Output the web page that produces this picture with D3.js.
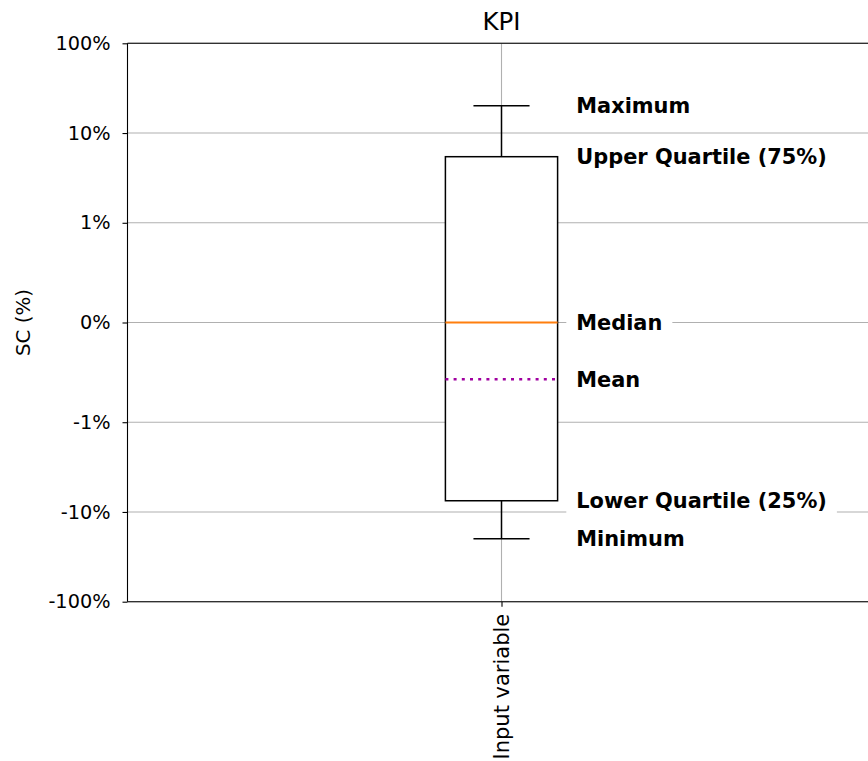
<!DOCTYPE html>
<html>
<head>
<meta charset="utf-8">
<script src="https://cdn.jsdelivr.net/npm/d3@7"></script>
<style>
  html, body { margin: 0; padding: 0; background: #fff; }
  svg { display: block; font-family: "DejaVu Sans", sans-serif; }
</style>
</head>
<body>
<svg id="chart" width="868" height="761"></svg>
<script>
// Box-plot summary of the KPI, values in percent
const categories = ["Input variable"];
const whiskerHigh = [20.2];
const upperQuartile = [5.45];
const median = [0];
const mean = [-0.57];
const lowerQuartile = [-7.5];
const whiskerLow = [-19.9];

const statLabels = ["Maximum", "Upper Quartile (75%)", "Median", "Mean", "Lower Quartile (25%)", "Minimum"];
const yTickValues = [-100, -10, -1, 0, 1, 10, 100];
const yTickLabels = ["-100%", "-10%", "-1%", "0%", "1%", "10%", "100%"];

// Symmetric log transform (linear within ±linthresh, log10 beyond)
const linthresh = 1, linscale = 1, base = 10;
const linscaleAdj = linscale / (1 - 1 / base);
function symlog(v) {
  const a = Math.abs(v);
  if (a <= linthresh) return v * linscaleAdj;
  return Math.sign(v) * linthresh * (linscaleAdj + Math.log(a / linthresh) / Math.log(base));
}

const plot = { left: 127.5, right: 875.5, top: 43.3, bottom: 601.7 };
const svg = d3.select("#chart");

const x = d3.scalePoint().domain(categories).range([plot.left, plot.right]).padding(0.5);
const yLin = d3.scaleLinear().domain([symlog(-100), symlog(100)]).range([plot.bottom, plot.top]);
const y = v => yLin(symlog(v));
const unit = (plot.right - plot.left); // one x data unit spans the whole axis (xlim 0.5..1.5)

// Grid
const grid = svg.append("g").attr("stroke", "#b0b0b0").attr("stroke-width", 1.1);
grid.selectAll("line.h").data(yTickValues).join("line")
  .attr("x1", plot.left).attr("x2", plot.right)
  .attr("y1", d => y(d)).attr("y2", d => y(d));
grid.selectAll("line.v").data(categories).join("line")
  .attr("x1", d => x(d)).attr("x2", d => x(d))
  .attr("y1", plot.top).attr("y2", plot.bottom);

// Boxes
const boxW = 0.15 * unit, capW = boxW / 2;
const g = svg.append("g").attr("fill", "none");
categories.forEach((c, i) => {
  const cx = x(c);
  g.append("line").attr("x1", cx).attr("x2", cx).attr("y1", y(upperQuartile[i])).attr("y2", y(whiskerHigh[i]))
    .attr("stroke", "#000").attr("stroke-width", 1.5);
  g.append("line").attr("x1", cx).attr("x2", cx).attr("y1", y(lowerQuartile[i])).attr("y2", y(whiskerLow[i]))
    .attr("stroke", "#000").attr("stroke-width", 1.5);
  g.append("line").attr("x1", cx - capW / 2).attr("x2", cx + capW / 2).attr("y1", y(whiskerHigh[i])).attr("y2", y(whiskerHigh[i]))
    .attr("stroke", "#000").attr("stroke-width", 1.5);
  g.append("line").attr("x1", cx - capW / 2).attr("x2", cx + capW / 2).attr("y1", y(whiskerLow[i])).attr("y2", y(whiskerLow[i]))
    .attr("stroke", "#000").attr("stroke-width", 1.5);
  g.append("rect").attr("x", cx - boxW / 2).attr("width", boxW)
    .attr("y", y(upperQuartile[i])).attr("height", y(lowerQuartile[i]) - y(upperQuartile[i]))
    .attr("fill", "#fff").attr("stroke", "#000").attr("stroke-width", 1.5);
  g.append("line").attr("x1", cx - boxW / 2).attr("x2", cx + boxW / 2).attr("y1", y(median[i])).attr("y2", y(median[i]))
    .attr("stroke", "#ff7f0e").attr("stroke-width", 2);
  g.append("line").attr("x1", cx - boxW / 2).attr("x2", cx + boxW / 2).attr("y1", y(mean[i])).attr("y2", y(mean[i]))
    .attr("stroke", "#a000a0").attr("stroke-width", 2.5).attr("stroke-dasharray", "3 5.2");

  // Annotations with white backgrounds
  const vals = [whiskerHigh[i], upperQuartile[i], median[i], mean[i], lowerQuartile[i], whiskerLow[i]];
  const lx = x(c) + 0.1 * unit;
  statLabels.forEach((lab, k) => {
    const ag = svg.append("g");
    const t = ag.append("text").attr("x", lx).attr("y", y(vals[k]))
      .attr("dy", "0.35em").attr("font-weight", "bold").attr("font-size", 20.9).attr("fill", "#000")
      .text(lab);
    const bb = t.node().getBBox();
    ag.insert("rect", "text").attr("x", bb.x - 10).attr("y", bb.y - 8)
      .attr("width", bb.width + 20).attr("height", bb.height + 16).attr("fill", "#fff");
  });
});

// Spines
const sp = svg.append("g").attr("stroke", "#000").attr("stroke-width", 1.1);
sp.append("line").attr("x1", plot.left).attr("x2", plot.left).attr("y1", plot.top).attr("y2", plot.bottom);
sp.append("line").attr("x1", plot.left).attr("x2", plot.right).attr("y1", plot.top).attr("y2", plot.top);
sp.append("line").attr("x1", plot.left).attr("x2", plot.right).attr("y1", plot.bottom).attr("y2", plot.bottom);
sp.append("line").attr("x1", plot.right).attr("x2", plot.right).attr("y1", plot.top).attr("y2", plot.bottom);

// Y axis
const yAxis = d3.axisLeft(yLin)
  .tickValues(yTickValues.map(symlog))
  .tickFormat((d, i) => yTickLabels[i])
  .tickSize(5).tickPadding(12);
const ya = svg.append("g").attr("transform", `translate(${plot.left},0)`).call(yAxis);
ya.select(".domain").remove();
ya.selectAll(".tick line").attr("stroke", "#000").attr("stroke-width", 1.1);
ya.selectAll(".tick text").attr("font-size", 19.3).attr("font-family", "DejaVu Sans").attr("fill", "#000");

// X axis
const xAxis = d3.axisBottom(x).tickSize(5).tickPadding(7);
const xa = svg.append("g").attr("transform", `translate(0,${plot.bottom})`).call(xAxis);
xa.select(".domain").remove();
xa.selectAll(".tick line").attr("stroke", "#000").attr("stroke-width", 1.1);
xa.selectAll(".tick text").attr("font-size", 21).attr("font-family", "DejaVu Sans").attr("fill", "#000")
  .attr("transform", "rotate(-90)").attr("text-anchor", "end").attr("x", -12).attr("y", 0).attr("dy", "0.35em");

// Titles
svg.append("text").attr("x", x(categories[0])).attr("y", 30).attr("text-anchor", "middle")
  .attr("font-size", 24.5).attr("fill", "#000").text("KPI");
svg.append("text").attr("transform", `translate(30,${(plot.top + plot.bottom) / 2}) rotate(-90)`)
  .attr("text-anchor", "middle").attr("font-size", 19.8).attr("fill", "#000").text("SC (%)");
</script>
</body>
</html>
